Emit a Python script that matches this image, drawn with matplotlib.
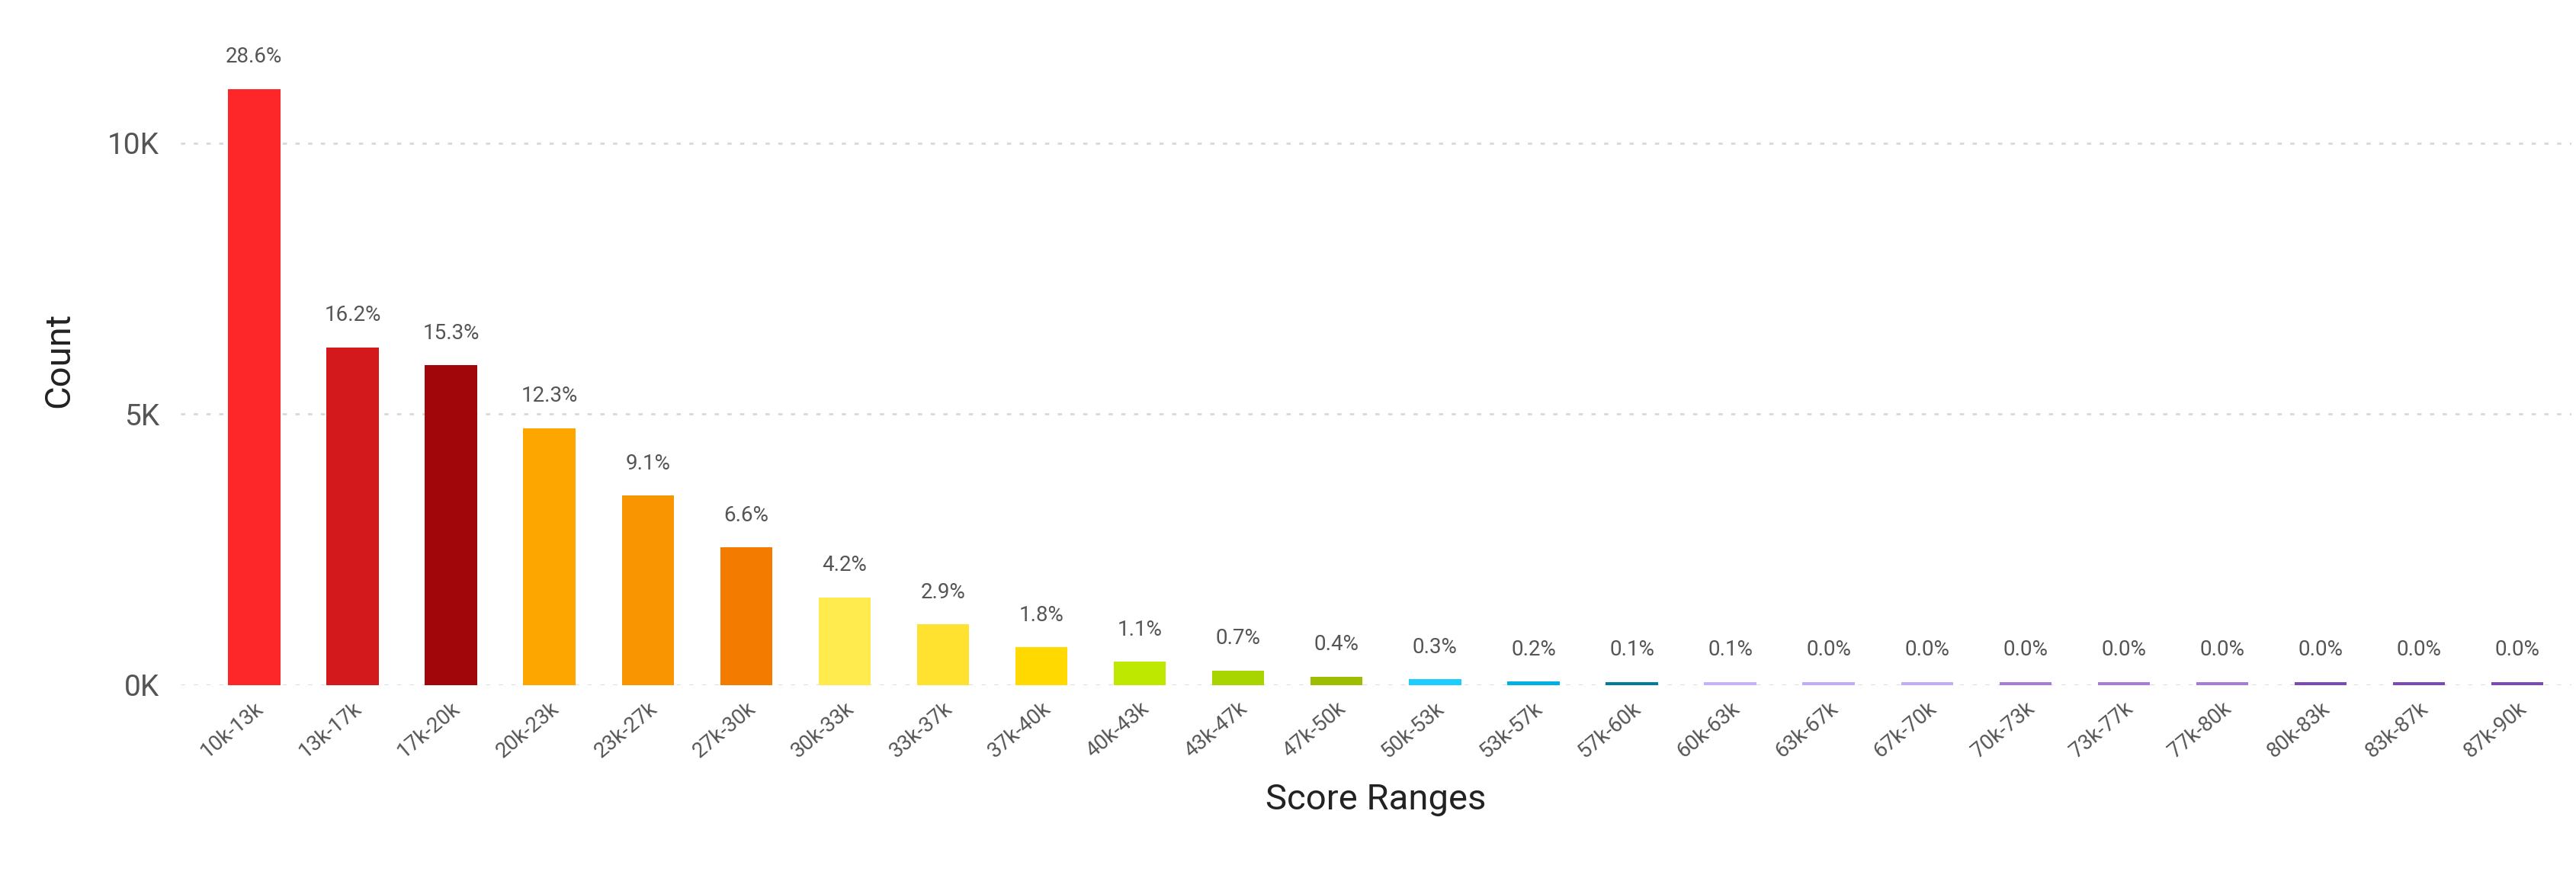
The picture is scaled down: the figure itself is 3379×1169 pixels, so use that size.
import matplotlib
matplotlib.use("Agg")
import matplotlib.pyplot as plt
from matplotlib.ticker import FuncFormatter

categories = ["10k-13k","13k-17k","17k-20k","20k-23k","23k-27k","27k-30k","30k-33k","33k-37k",
              "37k-40k","40k-43k","43k-47k","47k-50k","50k-53k","53k-57k","57k-60k","60k-63k",
              "63k-67k","67k-70k","70k-73k","73k-77k","77k-80k","80k-83k","83k-87k","87k-90k"]
counts = [11000, 6230, 5900, 4740, 3500, 2540, 1620, 1120, 700, 430, 270, 160, 110, 70, 45, 35,
          20, 15, 12, 10, 8, 6, 5, 4]
pct_labels = ["28.6%","16.2%","15.3%","12.3%","9.1%","6.6%","4.2%","2.9%","1.8%","1.1%","0.7%","0.4%",
              "0.3%","0.2%","0.1%","0.1%","0.0%","0.0%","0.0%","0.0%","0.0%","0.0%","0.0%","0.0%"]
colors = ["#FD272A","#D4191D","#A0060A","#FEA600","#F89500","#F37B00","#FFEB4D","#FFE22F",
          "#FFD900","#BFE800","#A8D400","#9DBD00","#1CCEFF","#00B0E0","#007D9C","#C9B0FF",
          "#C4AAFF","#C4AAFF","#A77ADE","#A77ADE","#A77ADE","#7D48BA","#7D48BA","#7D48BA"]

plt.rcParams['font.family'] = ['Roboto', 'DejaVu Sans']
fig = plt.figure(figsize=(33.8, 11.69), dpi=100)
ax = fig.add_axes([0.07, 0.231, 0.928, 0.73])

x = range(len(categories))
disp = [max(c, 60) for c in counts]
ax.bar(x, disp, width=0.53, color=colors, zorder=3)
for i, (v, lab) in enumerate(zip(disp, pct_labels)):
    ax.text(i, v + 400, lab, ha='center', va='bottom', fontsize=20, color='#555555')

ax.set_ylim(0, 12000)
ax.set_xlim(-0.75, len(categories) - 0.45)
ax.set_yticks([0, 5000, 10000])
ax.yaxis.set_major_formatter(FuncFormatter(lambda v, p: f"{int(v/1000)}K"))
ax.grid(axis='y', color='#d8d8d8', linestyle=(0, (2, 4)), linewidth=2, zorder=0)
ax.set_xticks(list(x))
ax.set_xticklabels(categories, rotation=40, ha='right', rotation_mode='anchor', fontsize=20, color='#555555')
ax.tick_params(axis='y', labelsize=28, colors='#555555', length=0, pad=20)
ax.tick_params(axis='x', length=0, pad=12)
for s in ax.spines.values():
    s.set_visible(False)
ax.set_ylabel("Count", fontsize=34, color='#222222', labelpad=30)
ax.set_xlabel("Score Ranges", fontsize=34, color='#222222', labelpad=20)

fig.savefig("out.png", dpi=100, facecolor='white')
